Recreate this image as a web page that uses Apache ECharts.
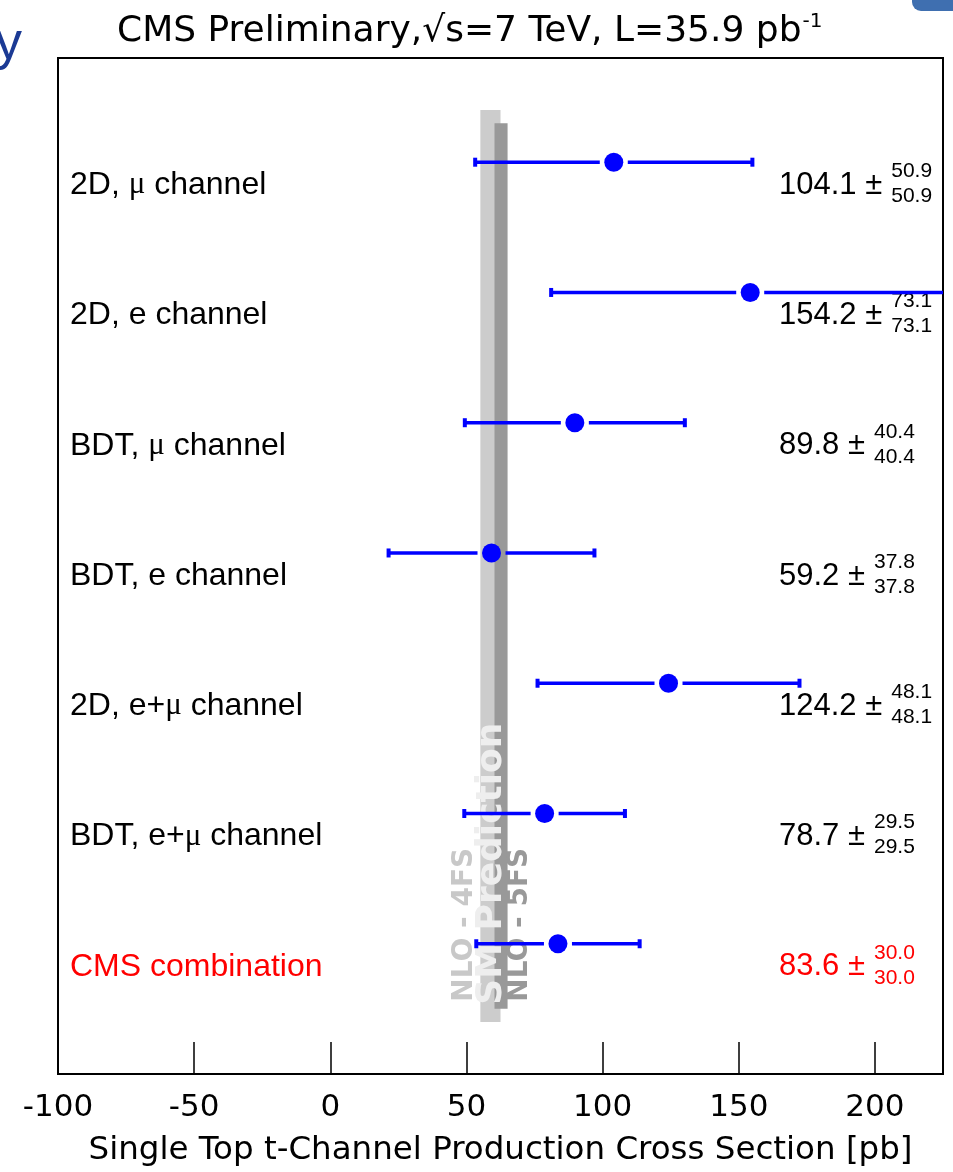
<!DOCTYPE html>
<html><head><meta charset="utf-8">
<script src="https://cdn.jsdelivr.net/npm/echarts@6/dist/echarts.min.js"></script>
<style>html,body{margin:0;padding:0;background:#fff}#c{width:953px;height:1172px}</style>
</head><body><div id="c"></div>
<script>
// ---------- data ----------
const categories = ["2D, μ channel","2D, e channel","BDT, μ channel","BDT, e channel","2D, e+μ channel","BDT, e+μ channel","CMS combination"];
const values = [104.1,154.2,89.8,59.2,124.2,78.7,83.6];
const errors = [50.9,73.1,40.4,37.8,48.1,29.5,30.0];
const valueLabels = ["104.1","154.2","89.8","59.2","124.2","78.7","83.6"];
const errorLabels = ["50.9","73.1","40.4","37.8","48.1","29.5","30.0"];
const band4FS = [55.1, 62.5];
const band5FS = [60.3, 65.1];
const bandNames = ["NLO - 4FS","SM Prediction","NLO - 5FS"];
const xMin = -100, xMax = 225, xStep = 50;
const titleText = "CMS Preliminary,√s=7 TeV, L=35.9 pb";
const titleSup = "-1";
const xTitle = "Single Top t-Channel Production Cross Section [pb]";

// ---------- helpers ----------
const mctx = document.createElement('canvas').getContext('2d');
function tw(text, font){ mctx.font = font; return mctx.measureText(text).width; }
const LAB_FONT = 'Liberation Sans';
const BLUE = '#0000ff';
const bandRows = [[0.6,7.6],[0.7,7.5]];
const bandColors = ['#cccccc','#999999'];

const chart = echarts.init(document.getElementById('c'), null, {renderer:'canvas'});

const option = {
  animation:false,
  backgroundColor:'#ffffff',
  grid:{left:58, right:10, top:58, bottom:97, show:true, borderColor:'#000', borderWidth:2, backgroundColor:'transparent'},
  xAxis:{
    type:'value', min:xMin, max:xMax, interval:xStep,
    axisLine:{show:true, lineStyle:{color:'#000', width:2}},
    axisTick:{show:true, inside:true, length:32, lineStyle:{color:'#000', width:1.5}},
    splitLine:{show:false},
    axisLabel:{color:'#000', fontFamily:'DejaVu Sans', fontSize:31, margin:18, showMaxLabel:false},
    name:xTitle, nameLocation:'middle', nameGap:60,
    nameTextStyle:{color:'#000', fontFamily:'DejaVu Sans', fontSize:32.5}
  },
  yAxis:{type:'value', min:0.2, max:8.0, inverse:true, show:false},
  series:[
    {
      type:'custom', name:'bands', z:1,
      data:[[band4FS[0], band4FS[1]],[band5FS[0], band5FS[1]]],
      encode:{x:[0,1]},
      renderItem:function(params, api){
        const i = params.dataIndex;
        const p0 = api.coord([api.value(0), bandRows[i][0]]);
        const p1 = api.coord([api.value(1), bandRows[i][1]]);
        return {type:'rect', shape:{x:p0[0], y:p0[1], width:p1[0]-p0[0], height:p1[1]-p0[1]}, style:{fill:bandColors[i]}};
      }
    },
    {
      type:'custom', name:'errors', z:5,
      data:values.map((v,i)=>[v, errors[i], i+1]),
      encode:{x:0, y:2},
      renderItem:function(params, api){
        const cs = params.coordSys;
        const v = api.value(0), e = api.value(1), row = api.value(2);
        const c = api.coord([v,row]), lo = api.coord([v-e,row]), hi = api.coord([v+e,row]);
        const xmin = cs.x, xmax = cs.x + cs.width;
        const gap = 14, children = [];
        function seg(a,b){ a=Math.max(a,xmin); b=Math.min(b,xmax);
          if(b>a) children.push({type:'line', shape:{x1:a,y1:c[1],x2:b,y2:c[1]}, style:{stroke:BLUE, lineWidth:3.5}}); }
        seg(lo[0], c[0]-gap); seg(c[0]+gap, hi[0]);
        [lo[0],hi[0]].forEach(x=>{ if(x>=xmin && x<=xmax) children.push({type:'rect', shape:{x:x-2,y:c[1]-4.5,width:4,height:9}, style:{fill:BLUE}}); });
        return {type:'group', children};
      }
    },
    {
      type:'scatter', name:'points', z:6,
      data:values.map((v,i)=>[v, i+1]),
      symbol:'circle', symbolSize:19,
      itemStyle:{color:BLUE, opacity:1}
    },
    {
      type:'custom', name:'labels', z:4,
      data:values.map((v,i)=>[v, i+1]),
      encode:{x:0, y:1},
      renderItem:function(params, api){
        const cs = params.coordSys;
        const i = params.dataIndex;
        const y = api.coord([api.value(0), api.value(1)])[1];
        const col = i === categories.length-1 ? '#ff0000' : '#000000';
        const parts = categories[i].split('μ');
        const rtext = parts.map(p => p ? `{a|${p}}` : '').join('{m|μ}');
        const mainTxt = valueLabels[i] + ' ±';
        const vx = cs.x + cs.width - 164;
        const mw = tw(mainTxt, `31px "${LAB_FONT}"`);
        const sx = vx + mw + 9;
        return {type:'group', children:[
          {type:'text', x: cs.x + 12, y: y + 23, style:{text:rtext, align:'left', verticalAlign:'middle',
            rich:{a:{fontSize:32, fontFamily:LAB_FONT, fill:col, color:col}, m:{fontSize:31, fontFamily:'Liberation Serif', fill:col, color:col}}}},
          {type:'text', x: vx, y: y + 23, style:{text:mainTxt, align:'left', verticalAlign:'middle', fontSize:31, fontFamily:LAB_FONT, fill:col}},
          {type:'text', x: sx, y: y + 9, style:{text:errorLabels[i], align:'left', verticalAlign:'middle', fontSize:21, fontFamily:LAB_FONT, fill:col}},
          {type:'text', x: sx, y: y + 34, style:{text:errorLabels[i], align:'left', verticalAlign:'middle', fontSize:21, fontFamily:LAB_FONT, fill:col}}
        ]};
      }
    }
  ]
};
chart.setOption(option);

// annotations placed relative to the axes
const lastRow = chart.convertToPixel({gridIndex:0}, [0, categories.length])[1];
const b4l = chart.convertToPixel({gridIndex:0}, [band4FS[0], 1])[0];
const b4r = chart.convertToPixel({gridIndex:0}, [band4FS[1], 1])[0];
const b5r = chart.convertToPixel({gridIndex:0}, [band5FS[1], 1])[0];
const titleFont = '36px "DejaVu Sans"';
const titleW = tw(titleText, titleFont);
chart.setOption({
  graphic:[
    {type:'text', z:3, x:b4l-16, y:lastRow+58, rotation:Math.PI/2,
      style:{text:bandNames[0], align:'left', verticalAlign:'middle', fontSize:28, fontWeight:'bold', fontFamily:'DejaVu Sans', fill:'#c8c8c8'}},
    {type:'text', z:3, x:(b4l+b4r)/2+1, y:lastRow+61, rotation:Math.PI/2,
      style:{text:bandNames[1], align:'left', verticalAlign:'middle', fontSize:36, fontWeight:'bold', fontFamily:'DejaVu Sans', fill:'#eeeeee'}},
    {type:'text', z:3, x:b5r+12, y:lastRow+58, rotation:Math.PI/2,
      style:{text:bandNames[2], align:'left', verticalAlign:'middle', fontSize:28, fontWeight:'bold', fontFamily:'DejaVu Sans', fill:'#999999'}},
    {type:'text', z:3, x:117, y:32,
      style:{text:titleText, align:'left', verticalAlign:'middle', font:titleFont, fill:'#000'}},
    {type:'text', z:3, x:117+titleW+1, y:22,
      style:{text:titleSup, align:'left', verticalAlign:'middle', fontSize:20, fontFamily:'DejaVu Sans', fill:'#000'}},
    {type:'text', z:3, x:22, y:44,
      style:{text:'y', align:'right', verticalAlign:'middle', fontSize:54, fontFamily:'Liberation Sans', fill:'#1b3a94'}},
    {type:'rect', z:3, shape:{x:912, y:-10, width:50, height:21, r:9}, style:{fill:'#3f6fb0'}}
  ]
});
</script></body></html>
